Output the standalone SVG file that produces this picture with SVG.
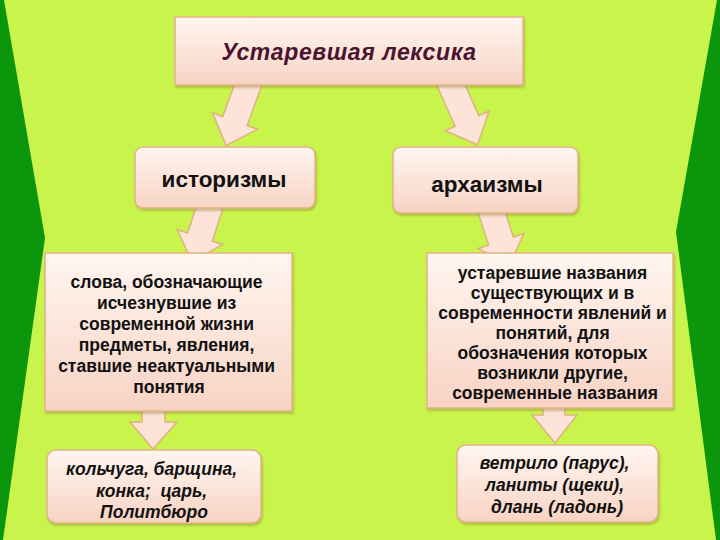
<svg xmlns="http://www.w3.org/2000/svg" width="720" height="540" viewBox="0 0 720 540">
<defs>
  <linearGradient id="boxfill" x1="0" y1="0" x2="0" y2="1">
    <stop offset="0" stop-color="#fff6f0"/>
    <stop offset="1" stop-color="#f8d3c4"/>
  </linearGradient>
  <filter id="shadow" x="-10%" y="-10%" width="120%" height="130%">
    <feDropShadow dx="1" dy="2" stdDeviation="1.2" flood-color="#8a7a30" flood-opacity="0.45"/>
  </filter>
  <path id="arrowShape" d="M -13 -60 L 13 -60 L 13 0 L 24 0 L 0 26 L -24 0 L -13 0 Z"/>
</defs>
<style>
  .box { fill: url(#boxfill); stroke: #e3b487; stroke-width: 1.5; filter: url(#shadow); }
  .arrow { fill: #fde3d8; stroke: #e0b27e; stroke-width: 1.5; stroke-linejoin: miter; }
  .t { font-family: "Liberation Sans", Arial, sans-serif; font-weight: bold; fill: #111; text-anchor: middle; }
  .head { font-size: 22.5px; }
  .body { font-size: 17.5px; }
  .ex { font-size: 17.5px; font-style: italic; }
  .title { font-size: 23px; font-style: italic; fill: #4a1430; }
</style>
<rect x="0" y="0" width="720" height="540" fill="#c8f44c"/>
<polygon points="0,0 4,0 45,238 3,540 0,540" fill="#0c960c"/>
<polygon points="720,0 717,0 676,232 716,540 720,540" fill="#0c960c"/>

<g id="connectors">
  <use href="#arrowShape" class="arrow" transform="translate(235,121) rotate(20)"/>
  <use href="#arrowShape" class="arrow" transform="translate(467,121) rotate(-24)"/>
  <use href="#arrowShape" class="arrow" transform="translate(200,237) rotate(18)"/>
  <use href="#arrowShape" class="arrow" transform="translate(501,241) rotate(-18)"/>
  <path class="arrow" d="M 142 405 L 165 405 L 165 422 L 177 422 L 153 449 L 130 422 L 142 422 Z"/>
  <path class="arrow" d="M 543 405 L 565 405 L 565 415 L 577 415 L 555 443 L 532 415 L 543 415 Z"/>
</g>

<g id="node-title">
  <rect class="box" x="175" y="17" width="348" height="68"/>
  <text class="t title" x="349" y="60" letter-spacing="0.6">Устаревшая лексика</text>
</g>
<g id="node-historisms">
  <rect class="box" x="135" y="147" width="180" height="61" rx="8"/>
  <text class="t head" x="224" y="187">историзмы</text>
</g>
<g id="node-archaisms">
  <rect class="box" x="393" y="147" width="185" height="66" rx="8"/>
  <text class="t head" x="487" y="192">архаизмы</text>
</g>
<g id="node-historisms-def">
  <rect class="box" x="45" y="253" width="247" height="158"/>
  <text class="t body" x="169">
    <tspan x="169" y="288">слова, обозначающие</tspan>
    <tspan x="169" y="309">исчезнувшие из</tspan>
    <tspan x="169" y="330">современной жизни</tspan>
    <tspan x="169" y="351">предметы, явления,</tspan>
    <tspan x="169" y="372">ставшие неактуальными</tspan>
    <tspan x="169" y="393">понятия</tspan>
  </text>
</g>
<g id="node-archaisms-def">
  <rect class="box" x="427" y="253" width="246" height="155"/>
  <text class="t body" x="555">
    <tspan x="555" y="279">устаревшие названия</tspan>
    <tspan x="555" y="299">существующих и в</tspan>
    <tspan x="555" y="319">современности явлений и</tspan>
    <tspan x="555" y="339">понятий, для</tspan>
    <tspan x="555" y="359">обозначения которых</tspan>
    <tspan x="555" y="379">возникли другие,</tspan>
    <tspan x="555" y="399">современные названия</tspan>
  </text>
</g>
<g id="node-historisms-ex">
  <rect class="box" x="47" y="450" width="214" height="73" rx="9"/>
  <text class="t ex" x="154">
    <tspan x="154" y="475">кольчуга, барщина,</tspan>
    <tspan x="154" y="497" style="white-space:pre">конка;  царь,</tspan>
    <tspan x="154" y="518">Политбюро</tspan>
  </text>
</g>
<g id="node-archaisms-ex">
  <rect class="box" x="457" y="445" width="201" height="77" rx="9"/>
  <text class="t ex" x="557">
    <tspan x="557" y="469">ветрило (парус),</tspan>
    <tspan x="557" y="491">ланиты (щеки),</tspan>
    <tspan x="557" y="513">длань (ладонь)</tspan>
  </text>
</g>
</svg>
